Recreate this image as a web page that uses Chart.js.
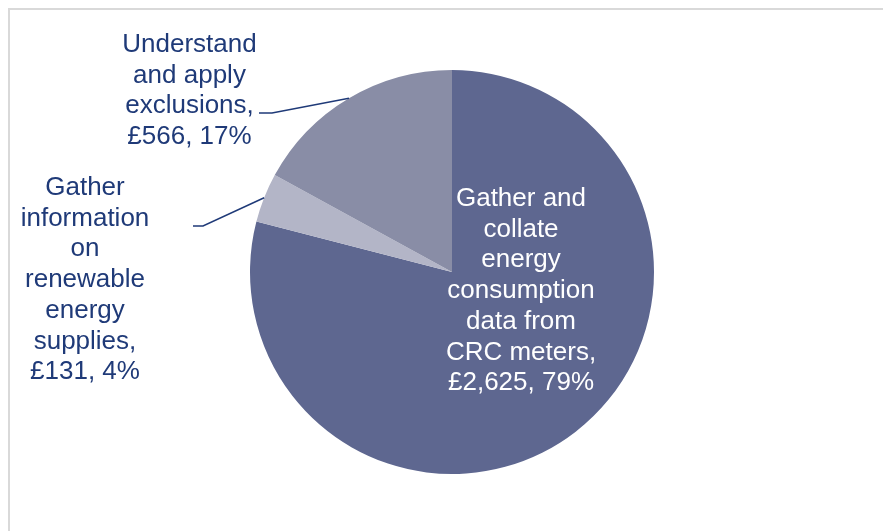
<!DOCTYPE html>
<html>
<head>
<meta charset="utf-8">
<script src="https://cdn.jsdelivr.net/npm/chart.js@4.4.1/dist/chart.umd.min.js"></script>
<style>
  html, body { margin: 0; padding: 0; background: #ffffff; }
  #wrap { width: 883px; height: 531px; position: relative; }
</style>
</head>
<body>
<div id="wrap"><canvas id="camembert"></canvas></div>
<script>
// Coûts par activité (£), dans le sens horaire depuis midi
const categories = [
  ['Gather and', 'collate', 'energy', 'consumption', 'data from', 'CRC meters,'],
  ['Gather', 'information', 'on', 'renewable', 'energy', 'supplies,'],
  ['Understand', 'and apply', 'exclusions,']
];
const valeurs = [2625, 131, 566];
const couleurs = ['#5E6790', '#B3B5C7', '#898DA6'];

// position du bloc de texte de chaque étiquette (centre x, ligne de base de la 1re ligne)
const positionsTexte = [
  { x: 521, y: 206, interne: true },
  { x: 85, y: 195, interne: false, ligne: [193, 226, 203] },
  { x: 189.5, y: 52, interne: false, ligne: [259, 113, 272] }
];

const total = valeurs.reduce((a, b) => a + b, 0);
const texteNavy = '#1F3A78';
const interligne = 30.7;

function texteEtiquette(i) {
  const pct = Math.round(valeurs[i] / total * 100);
  return categories[i].concat(['£' + valeurs[i].toLocaleString('en-GB') + ', ' + pct + '%']);
}

// Cadre gris clair autour du graphique
const cadre = {
  id: 'cadre',
  beforeDraw(chart) {
    const ctx = chart.ctx;
    ctx.save();
    ctx.strokeStyle = '#D9D9D9';
    ctx.lineWidth = 2;
    ctx.strokeRect(9, 9, 1000, 1000);
    ctx.restore();
  }
};

// Étiquettes de données + lignes de repère
const etiquettes = {
  id: 'etiquettes',
  afterDatasetsDraw(chart) {
    const ctx = chart.ctx;
    const arcs = chart.getDatasetMeta(0).data;
    ctx.save();
    ctx.font = '26px "Liberation Sans", Arial, sans-serif';
    ctx.textAlign = 'center';
    ctx.textBaseline = 'alphabetic';

    arcs.forEach((arc, i) => {
      const p = positionsTexte[i];
      if (p.ligne) {
        const mid = (arc.startAngle + arc.endAngle) / 2;
        const ex = arc.x + Math.cos(mid) * arc.outerRadius;
        const ey = arc.y + Math.sin(mid) * arc.outerRadius;
        ctx.strokeStyle = texteNavy;
        ctx.lineWidth = 1.5;
        ctx.beginPath();
        ctx.moveTo(p.ligne[0], p.ligne[1]);
        ctx.lineTo(p.ligne[2], p.ligne[1]);
        ctx.lineTo(ex, ey);
        ctx.stroke();
      }
      ctx.fillStyle = p.interne ? '#FFFFFF' : texteNavy;
      texteEtiquette(i).forEach((l, k) => {
        ctx.fillText(l, p.x, p.y + k * interligne);
      });
    });
    ctx.restore();
  }
};

new Chart(document.getElementById('camembert'), {
  type: 'pie',
  data: {
    labels: categories.map(c => c.join(' ')),
    datasets: [{
      data: valeurs,
      backgroundColor: couleurs,
      borderWidth: 0
    }]
  },
  options: {
    responsive: true,
    maintainAspectRatio: false,
    animation: false,
    layout: { padding: { top: 70, bottom: 57, left: 250, right: 229 } },
    plugins: {
      legend: { display: false },
      tooltip: { enabled: false }
    }
  },
  plugins: [cadre, etiquettes]
});
</script>
</body>
</html>
